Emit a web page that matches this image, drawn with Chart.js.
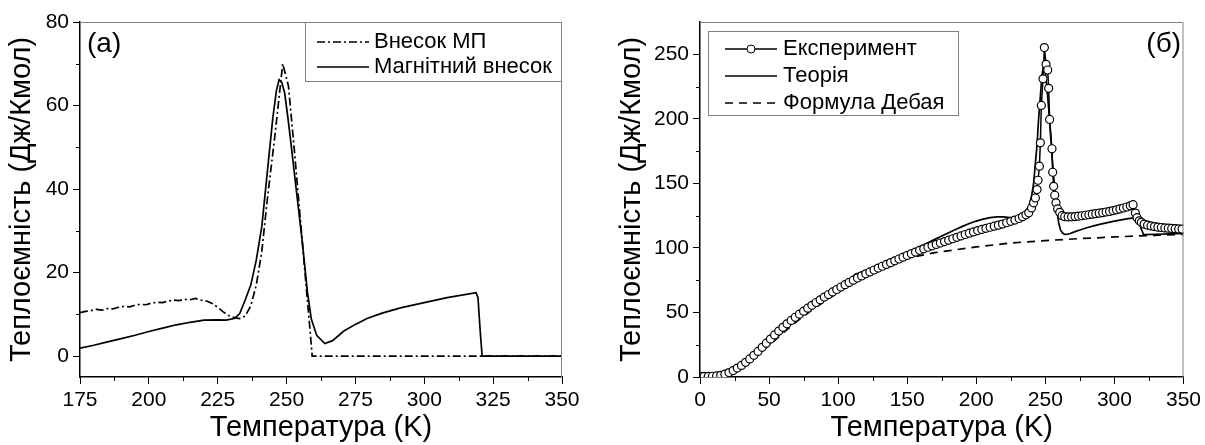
<!DOCTYPE html>
<html>
<head>
<meta charset="utf-8">
<script src="https://cdn.jsdelivr.net/npm/chart.js@4.4.0/dist/chart.umd.min.js"></script>
<style>
  html, body { margin: 0; padding: 0; background: #fff; }
  #wrap { position: relative; width: 1205px; height: 445px; }
  .panel { position: absolute; top: 0; height: 445px; }
  #panelA { left: 0; width: 600px; }
  #panelB { left: 600px; width: 605px; }
</style>
</head>
<body>
<div id="wrap">
  <div class="panel" id="panelA"><canvas id="chartA" width="600" height="445"></canvas></div>
  <div class="panel" id="panelB"><canvas id="chartB" width="605" height="445"></canvas></div>
</div>
<script>
// --- (a) внески ---
const tempMp = [175, 177, 179, 181, 183, 185, 187, 189, 191, 193, 195, 197, 199, 201, 203, 205, 207, 209, 211, 213, 215, 217, 219, 221, 223, 225, 227, 229, 231, 233, 235, 237, 239, 241, 243, 245.8, 248.6, 250.7, 252.8, 254.9, 257, 258.6, 259.3, 300, 350];
const mpValues = [10.4, 10.7, 10.9, 11.2, 11.0, 11.4, 11.3, 11.7, 11.9, 11.8, 12.2, 12.4, 12.3, 12.7, 12.9, 12.8, 13.2, 13.4, 13.3, 13.6, 13.5, 13.8, 13.4, 13.2, 12.6, 11.7, 10.6, 9.7, 9.2, 9.0, 9.6, 12.0, 17, 25, 37.5, 53, 70, 64.6, 49.5, 33.5, 17.6, 5.6, 0, 0, 0];

const tempMag = [175, 180, 185, 190, 195, 200, 205, 210, 215, 220, 225, 228, 231, 233, 235, 237, 239, 241, 243, 245, 246.3, 247.3, 248.3, 249.3, 250.5, 251.5, 253.5, 255.6, 257.6, 259, 261, 263.9, 266.7, 270.8, 275, 279.2, 284.7, 291.7, 300, 308.3, 318.8, 319.5, 320.3, 321, 335, 350];
const magValues = [1.9, 2.6, 3.4, 4.2, 5.0, 5.9, 6.7, 7.5, 8.1, 8.6, 8.7, 8.6, 9.0, 10.2, 13.5, 17, 23, 31, 44, 57, 63.5, 66.2, 65.5, 63, 57, 51.5, 40, 28, 15.2, 8.8, 4.9, 3.0, 3.7, 6.0, 7.6, 9.0, 10.3, 11.6, 12.8, 14.0, 15.2, 14, 6, 0, 0, 0];

const xTicksA = [175, 200, 225, 250, 275, 300, 325, 350];
const yTicksA = [0, 20, 40, 60, 80];

// --- (б) теплоємність ---
const tempExp = [0, 3, 6, 9, 12, 15, 18, 21, 24, 27, 30, 33, 36, 39, 42, 45, 48, 51, 54, 57, 60, 63, 66, 69, 72, 75, 78, 81, 84, 87, 90, 93, 96, 99, 102, 105, 108, 111, 114, 117, 120, 123, 126, 129, 132, 135, 138, 141, 144, 147, 150, 153, 156, 159, 162, 165, 168, 171, 174, 177, 180, 183, 186, 189, 192, 195, 198, 201, 204, 207, 210, 213, 216, 219, 222, 225, 228, 231, 233.5, 236, 238, 240, 241.5, 242.8, 244, 244.7, 245.7, 246.4, 247.1, 248.3, 249.3, 250.5, 251.7, 252.4, 253.1, 254.8, 255.3, 256, 256.8, 257.7, 258.9, 260.4, 262.1, 264, 266.5, 269, 271.5, 274, 276.5, 279, 281.5, 284, 286.5, 289, 291.5, 294, 296.5, 299, 301.5, 304, 306.5, 309, 311.5, 313.5, 315.2, 316.4, 318, 319.5, 321.5, 324, 326.5, 329, 331.5, 334, 336.5, 339, 341.5, 344, 346.5, 349];
const expValues = [0.5, 0.5, 0.5, 0.6, 0.8, 1.3, 2.2, 3.4, 5.0, 6.9, 9.0, 11.4, 14.0, 16.8, 19.8, 23.0, 26.2, 29.4, 32.6, 35.6, 38.5, 41.2, 43.8, 46.3, 48.7, 51.0, 53.3, 55.5, 57.7, 59.8, 61.9, 63.9, 65.9, 67.8, 69.7, 71.5, 73.3, 75.0, 76.7, 78.3, 79.9, 81.4, 82.9, 84.4, 85.8, 87.2, 88.6, 90.0, 91.4, 92.8, 94.2, 95.5, 96.8, 98.1, 99.3, 100.5, 101.6, 102.7, 103.8, 104.9, 106.0, 107.1, 108.2, 109.3, 110.4, 111.4, 112.4, 113.4, 114.3, 115.2, 116.0, 116.8, 117.6, 118.5, 119.5, 120.6, 121.6, 122.8, 124.2, 125.7, 127.2, 131, 134.9, 138.7, 145.2, 152.4, 163.3, 181.4, 210.4, 231, 255.2, 242.2, 237.8, 223.6, 199.5, 176.8, 158.6, 147.7, 140.8, 134.9, 130.2, 127.6, 125, 124.2, 124.0, 124.1, 124.3, 124.6, 124.9, 125.3, 125.7, 126.1, 126.5, 126.9, 127.3, 127.8, 128.3, 128.9, 129.5, 130.2, 130.9, 131.7, 132.6, 133.5, 127, 123.4, 121, 119.8, 118.5, 117.6, 117, 116.5, 116.1, 115.8, 115.5, 115.3, 115.1, 114.9, 114.7, 114.6];

const tempTheory = [0, 5, 10, 15, 20, 25, 30, 35, 40, 45, 50, 55, 60, 65, 70, 75, 80, 85, 90, 95, 100, 105, 110, 111, 112, 115, 120, 125, 130, 135, 140, 145, 150, 155, 160, 165, 170, 175, 180, 185, 190, 195, 200, 205, 210, 215, 220, 224, 228, 232, 235, 238, 240, 241.5, 243, 244, 245, 246.4, 247.5, 248.8, 250, 251.5, 253, 254.5, 256, 257.2, 258.5, 259.7, 261, 262.5, 264, 266, 268, 271, 275, 280, 285, 290, 295, 300, 305, 310, 314, 316.4, 318, 319.5, 321, 322, 330, 340, 350];
const theoryValues = [0.3, 0.4, 0.7, 1.5, 3.0, 5.3, 8.2, 11.8, 15.8, 20.3, 25.2, 30.2, 35.2, 40.0, 44.6, 49.0, 53.2, 57.2, 61.0, 64.6, 68.0, 71.2, 74.3, 77.5, 79.5, 80.5, 82.5, 84.6, 86.8, 89.0, 91.3, 93.7, 96.2, 98.8, 101.4, 104.0, 106.6, 109.2, 111.8, 114.3, 116.7, 118.9, 120.8, 122.3, 123.4, 124.0, 124.0, 123.4, 123.5, 125.0, 127.5, 132, 140, 150, 168, 180, 198, 217.6, 233, 242, 236, 220, 200, 176, 155, 140, 128, 119.3, 114, 111.5, 110.5, 110.6, 111.2, 112.4, 113.9, 115.6, 117.1, 118.4, 119.6, 120.7, 121.7, 122.7, 123.3, 122, 119, 114.5, 110.5, 110.3, 110.6, 110.9, 111.2];

const tempDebye = [0, 10, 20, 30, 40, 50, 60, 70, 80, 90, 100, 110, 120, 130, 140, 150, 155, 170, 200, 225, 250, 275, 300, 325, 350];
const debyeValues = [0, 0.3, 2.0, 7.5, 15.5, 24.5, 34, 43, 51, 58.5, 65.5, 72, 77.8, 83, 87.5, 91.5, 93, 96.3, 100.8, 103.8, 105.7, 107.2, 108.5, 109.6, 110.5];

const xTicksB = [0, 50, 100, 150, 200, 250, 300, 350];
const yTicksB = [0, 50, 100, 150, 200, 250];

const pts = (xs, ys) => xs.map((x, i) => ({ x: x, y: ys[i] }));

Chart.defaults.font.family = "'Liberation Sans', Arial, sans-serif";
Chart.defaults.color = '#000';

// рамка, мінорні поділки, легенда, підпис панелі
const extras = {
  id: 'extras',
  afterDraw(chart, args, opts) {
    const c = chart.ctx;
    const a = chart.chartArea;
    const sx = chart.scales.x, sy = chart.scales.y;
    c.save();
    c.strokeStyle = '#808080';
    c.lineWidth = 1;
    c.beginPath();
    c.moveTo(a.left, a.top + 0.5);
    c.lineTo(a.right - 0.5, a.top + 0.5);
    c.lineTo(a.right - 0.5, a.bottom);
    c.stroke();

    c.strokeStyle = '#000';
    c.beginPath();
    for (let v = sx.min + opts.minorX / 2; v < sx.max; v += opts.minorX) {
      const px = Math.round(sx.getPixelForValue(v)) + 0.5;
      c.moveTo(px, a.bottom);
      c.lineTo(px, a.bottom + 4);
    }
    for (let v = opts.minorY / 2; v < sy.max; v += opts.minorY) {
      if (v < sy.min) continue;
      const py = Math.round(sy.getPixelForValue(v)) + 0.5;
      c.moveTo(a.left, py);
      c.lineTo(a.left - 4, py);
    }
    c.stroke();

    const L = opts.legend;
    c.fillStyle = '#fff';
    c.fillRect(L.x, L.y, L.w, L.h);
    c.strokeStyle = '#808080';
    c.strokeRect(L.x + 0.5, L.y + 0.5, L.w - 1, L.h - 1);
    c.font = '22px ' + Chart.defaults.font.family;
    c.textBaseline = 'middle';
    L.items.forEach((idx, k) => {
      const ds = chart.data.datasets[idx];
      const y = L.rows[k];
      c.strokeStyle = '#000';
      c.lineWidth = ds.borderWidth;
      c.setLineDash(ds.borderDash || []);
      c.beginPath();
      c.moveTo(L.x0, y);
      c.lineTo(L.x1, y);
      c.stroke();
      c.setLineDash([]);
      if (ds.pointRadius > 0) {
        c.lineWidth = 1;
        c.fillStyle = '#fff';
        c.beginPath();
        c.arc((L.x0 + L.x1) / 2, y, ds.pointRadius, 0, Math.PI * 2);
        c.fill();
        c.stroke();
      }
      c.fillStyle = '#000';
      c.textAlign = 'left';
      c.fillText(ds.label, L.tx, y);
    });

    c.font = '28px ' + Chart.defaults.font.family;
    c.textAlign = opts.tag.align;
    c.fillText(opts.tag.text, opts.tag.x, opts.tag.y);
    c.restore();
  }
};

function axis(min, max, ticks, title, titlePad, size) {
  return {
    type: 'linear',
    min: min,
    max: max,
    afterBuildTicks: s => { s.ticks = ticks.map(v => ({ value: v })); },
    afterFit: s => { if (s.isHorizontal()) s.height = size; else s.width = size; },
    grid: { drawOnChartArea: false, drawTicks: true, tickLength: 7, color: '#000', lineWidth: 1 },
    border: { display: true, color: '#000', width: 1.5 },
    ticks: { font: { size: 21 }, padding: 4, autoSkip: false, maxRotation: 0, color: '#000' },
    title: { display: true, text: title, font: { size: 29 }, padding: titlePad, color: '#000' }
  };
}

const chartA = new Chart(document.getElementById('chartA'), {
  type: 'line',
  data: {
    datasets: [{
      label: 'Внесок МП',
      data: pts(tempMp, mpValues),
      borderColor: '#000',
      borderWidth: 1.7,
      borderDash: [8, 3, 2, 3],
      pointRadius: 0,
      tension: 0
    }, {
      label: 'Магнітний внесок',
      data: pts(tempMag, magValues),
      borderColor: '#000',
      borderWidth: 1.7,
      pointRadius: 0,
      tension: 0
    }]
  },
  options: {
    responsive: false,
    animation: false,
    layout: { padding: { left: 0, right: 38, top: 22, bottom: 0 } },
    plugins: {
      legend: { display: false },
      tooltip: { enabled: false },
      extras: {
        minorX: 25, minorY: 20,
        legend: { x: 305, y: 22, w: 257, h: 60, rows: [42, 67], items: [0, 1], x0: 317, x1: 369, tx: 374 },
        tag: { text: '(a)', x: 87, y: 44, align: 'left' }
      }
    },
    scales: {
      x: axis(175, 350, xTicksA, 'Температура (K)', { top: 0, bottom: 0 }, 68),
      y: axis(-5, 80, yTicksA, 'Теплоємність (Дж/Кмол)', { top: 5, bottom: 0 }, 80)
    }
  },
  plugins: [extras]
});

const chartB = new Chart(document.getElementById('chartB'), {
  type: 'line',
  data: {
    datasets: [{
      label: 'Експеримент',
      data: pts(tempExp, expValues),
      borderColor: '#000',
      borderWidth: 1.5,
      pointRadius: 4,
      pointBorderWidth: 1.2,
      pointBorderColor: '#000',
      pointBackgroundColor: '#fff',
      tension: 0
    }, {
      label: 'Теорія',
      data: pts(tempTheory, theoryValues),
      borderColor: '#000',
      borderWidth: 1.7,
      pointRadius: 0,
      tension: 0
    }, {
      label: 'Формула Дебая',
      data: pts(tempDebye, debyeValues),
      borderColor: '#000',
      borderWidth: 1.7,
      borderDash: [8, 6],
      pointRadius: 0,
      tension: 0
    }]
  },
  options: {
    responsive: false,
    animation: false,
    layout: { padding: { left: 0, right: 20, top: 22, bottom: 0 } },
    plugins: {
      legend: { display: false },
      tooltip: { enabled: false },
      extras: {
        minorX: 50, minorY: 50,
        legend: { x: 108, y: 31, w: 251, h: 85, rows: [49, 76, 103], items: [0, 1, 2], x0: 125, x1: 177, tx: 183 },
        tag: { text: '(б)', x: 581, y: 44, align: 'right' }
      }
    },
    scales: {
      x: axis(0, 350, xTicksB, 'Температура (K)', { top: 0, bottom: 0 }, 68),
      y: axis(0, 275, yTicksB, 'Теплоємність (Дж/Кмол)', { top: 15, bottom: 0 }, 100)
    }
  },
  plugins: [extras]
});
</script>
</body>
</html>
